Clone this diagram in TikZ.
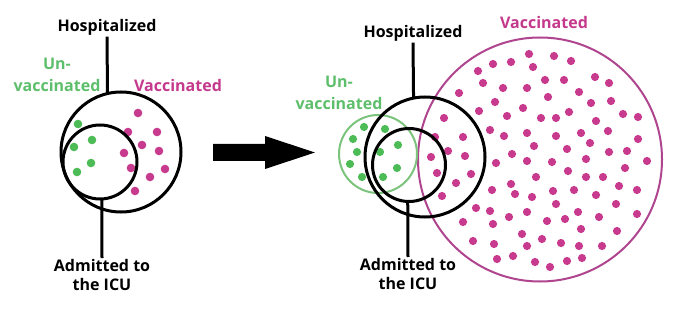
\documentclass[tikz,border=0pt]{standalone}
\usepackage{fontspec}
\setmainfont{Open Sans}
\definecolor{pinkdot}{HTML}{C73A8E}
\definecolor{pinkline}{HTML}{B0458F}
\definecolor{greendot}{HTML}{4DBB56}
\definecolor{greenline}{HTML}{7CC47E}
\definecolor{greentext}{HTML}{5DBE6B}
\definecolor{pinktext}{HTML}{C5398C}
\begin{document}
\begin{tikzpicture}[x=1pt,y=-1pt,
  ring/.style={circle, draw=black, line width=3pt, inner sep=0pt, outer sep=0pt, minimum size=#1},
  pring/.style={circle, draw=pinkline, line width=2pt, inner sep=0pt, outer sep=0pt, minimum size=#1},
  gring/.style={circle, draw=greenline, line width=2pt, inner sep=0pt, outer sep=0pt, minimum size=#1},
  lbl/.style={font=\bfseries\fontsize{16}{19}\selectfont, align=center, inner sep=1.5pt},
  pointer/.style={line width=3pt, draw=black},
  pd/.style={fill=pinkdot},
  gd/.style={fill=greendot}]
\useasboundingbox (0,0) rectangle (680,310);
\fill[white] (0,0) rectangle (680,310);

% ---------- left diagram ----------
\foreach \p in {(138,113),(128,132),(157,132),(142,145),(124,153),(159,151),(131,168),(165,169),(150,177),(135,191)}
  \fill[pd] \p circle (4.3);
\foreach \p in {(78,124),(92,140),(74,147),(91,163),(77,172)}
  \fill[gd] \p circle (4.3);
\node[ring=120pt] (hospL) at (121,152) {};
\node[ring=74pt] (icuL) at (100,162) {};

\node[lbl] (hlabL) at (107,27) {Hospitalized};
\node[lbl, text=greentext] (ulabL) at (57,75) {Un-\\[3pt]vaccinated};
\node[lbl, text=pinktext] (vlabL) at (178,86) {Vaccinated};
\node[lbl, anchor=north] (ilabL) at (102,258) {Admitted to\\the ICU};
\draw[pointer] (hlabL.south) -- (hospL.103.5);
\draw[pointer] (icuL.273.1) -- (ilabL.north);

% ---------- arrow ----------
\fill[black] (213,144) -- (265,144) -- (265,136) -- (315,152.5) -- (265,169) -- (265,161) -- (213,161) -- cycle;

% ---------- right diagram ----------
\node[pring=244pt] (vacR) at (540,159.5) {};
\node[gring=78pt] (unvR) at (378,154) {};
\foreach \p in {(529,54),(493,64),(511,62),(533,67),(478,71),(483,83),(503,88),(527,88),(459,93),(495,102),(479,111),(523,108),(541,118),(444,118),(507,116),(490,130),(527,133),(435,137),(463,137),(504,136),(448,151),(534,146),(465,156),(512,154),(431,157),(527,161),
  (554,56),(571,61),(545,80),(564,80),(595,77),(609,83),(548,97),(579,92),(591,103),(611,101),(569,112),(556,118),(623,114),(638,117),(596,121),(581,133),(608,131),(556,136),(590,143),(638,139),(567,149),(609,152),(627,151),(586,159),(552,162),(647,161),
  (496,163),(437,173),(471,174),(456,183),(536,177),(511,184),(492,190),(442,196),(515,194),(532,197),(476,208),(490,211),(527,212),(509,217),(463,222),(493,224),(522,234),(542,239),(473,241),(494,244),(527,246),(513,256),(497,259),(535,262),
  (625,168),(568,171),(586,177),(603,177),(619,186),(637,190),(553,191),(574,190),(596,195),(556,204),(616,204),(578,212),(637,214),(547,221),(565,219),(599,217),(581,229),(617,231),(561,243),(579,246),(602,246),(567,261),(582,258),(550,267)}
  \fill[pd] \p circle (4.1);
\foreach \p in {(364,127),(385,129),(353,139),(398,145),(357,152),(380,152),(350,164),(397,168),(362,177),(383,177)}
  \fill[gd] \p circle (4.1);
\node[ring=120pt] (hospR) at (425,157) {};
\node[ring=73pt] (icuR) at (409,165) {};

\node[lbl] (hlabR) at (413,33) {Hospitalized};
\node[lbl, text=greentext] (ulabR) at (339,93) {Un-\\[3pt]vaccinated};
\node[lbl, text=pinktext] (vlabR) at (544,23) {Vaccinated};
\node[lbl, anchor=north] (ilabR) at (408,257) {Admitted to\\the ICU};
\draw[pointer] (hlabR.south) -- (hospR.101.5);
\draw[pointer] (icuR.268.4) -- (ilabR.north);
\end{tikzpicture}
\end{document}
